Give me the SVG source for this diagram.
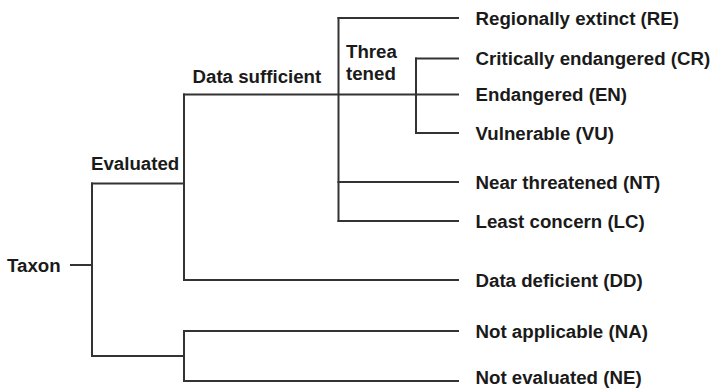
<svg xmlns="http://www.w3.org/2000/svg" width="713" height="388" viewBox="0 0 713 388">
<style>
.t{font-family:"Liberation Sans",Arial,Helvetica,sans-serif;font-weight:bold;font-size:18.7px;fill:#1a1a1a}
.c{fill:none;stroke:#333;stroke-width:2;stroke-linecap:square}
</style>
<rect width="713" height="388" fill="#fff"/>
<g id="connectors" class="c">
<path d="M71 265H92"/>
<path d="M92 183.5V356"/>
<path d="M92 183.5H184"/>
<path d="M92 356H184"/>
<path d="M184 94.5V280"/>
<path d="M184 94.5H458"/>
<path d="M184 280H458"/>
<path d="M184 331V381"/>
<path d="M184 331H458"/>
<path d="M184 381H458"/>
<path d="M338.5 18V221"/>
<path d="M338.5 18H458"/>
<path d="M338.5 182H458"/>
<path d="M338.5 221H458"/>
<path d="M416 58.5V133"/>
<path d="M416 58.5H458"/>
<path d="M416 133H458"/>
</g>
<g id="taxon"><text class="t" x="7" y="271.5">Taxon</text></g>
<g id="evaluated"><text class="t" x="91" y="170">Evaluated</text></g>
<g id="data-sufficient"><text class="t" x="192.5" y="83">Data sufficient</text></g>
<g id="threatened"><text class="t" x="346" y="58">Threa</text><text class="t" x="346" y="80">tened</text></g>
<g id="re"><text class="t" x="475.5" y="24.5">Regionally extinct (RE)</text></g>
<g id="cr"><text class="t" x="475.5" y="65">Critically endangered (CR)</text></g>
<g id="en"><text class="t" x="475.5" y="101">Endangered (EN)</text></g>
<g id="vu"><text class="t" x="475.5" y="139.5">Vulnerable (VU)</text></g>
<g id="nt"><text class="t" x="475.5" y="188.5">Near threatened (NT)</text></g>
<g id="lc"><text class="t" x="475.5" y="227.5">Least concern (LC)</text></g>
<g id="dd"><text class="t" x="475.5" y="286.5">Data deficient (DD)</text></g>
<g id="na"><text class="t" x="475.5" y="337.5">Not applicable (NA)</text></g>
<g id="ne"><text class="t" x="475.5" y="384">Not evaluated (NE)</text></g>
</svg>
